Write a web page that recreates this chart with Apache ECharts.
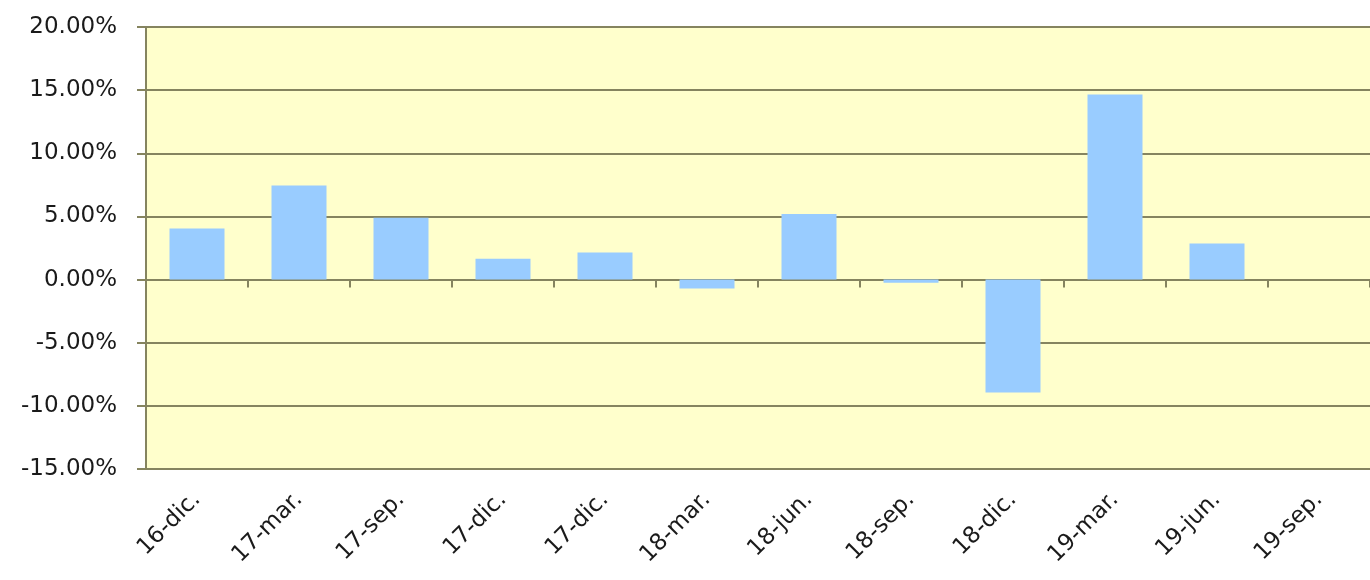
<!DOCTYPE html>
<html>
<head>
<meta charset="utf-8">
<script src="https://cdn.jsdelivr.net/npm/echarts@6/dist/echarts.min.js"></script>
<style>
  html, body { margin: 0; padding: 0; background: #ffffff; }
  #chart { width: 1370px; height: 580px; }
</style>
</head>
<body>
<div id="chart"></div>
<script>
// Quarterly returns (%)
const categories = ['16-dic.', '17-mar.', '17-sep.', '17-dic.', '17-dic.', '18-mar.',
                    '18-jun.', '18-sep.', '18-dic.', '19-mar.', '19-jun.', '19-sep.'];
const returns = [4.05, 7.45, 4.9, 1.65, 2.15, -0.7, 5.2, -0.25, -8.95, 14.65, 2.85, null];

const axisColor = '#85845f';
const labelFont = { fontFamily: 'DejaVu Sans', fontSize: 23, color: '#1a1a1a' };

const chart = echarts.init(document.getElementById('chart'));
chart.setOption({
  animation: false,
  backgroundColor: '#ffffff',
  grid: {
    left: 146, top: 27, width: 1232, height: 442,
    show: true, backgroundColor: '#ffffcc', borderWidth: 0
  },
  xAxis: [
    {
      // axis line through zero with boundary ticks
      type: 'category',
      data: categories,
      axisLine: { onZero: true, lineStyle: { color: axisColor, width: 2 } },
      axisTick: { show: true, length: 8, lineStyle: { color: axisColor, width: 2 } },
      axisLabel: { show: false },
      splitLine: { show: false }
    },
    {
      // date labels along the bottom edge
      type: 'category',
      data: categories,
      position: 'bottom',
      axisLine: { show: false, onZero: false },
      axisTick: { show: false },
      axisLabel: Object.assign({ rotate: 45, margin: 27, interval: 0 }, labelFont),
      splitLine: { show: false }
    }
  ],
  yAxis: {
    type: 'value',
    min: -15, max: 20, interval: 5,
    axisLine: { show: true, lineStyle: { color: axisColor, width: 2 } },
    axisTick: { show: true, length: 9, lineStyle: { color: axisColor, width: 2 } },
    splitLine: { show: true, lineStyle: { color: axisColor, width: 2 } },
    axisLabel: Object.assign({
      margin: 29,
      formatter: v => v.toFixed(2) + '%'
    }, labelFont)
  },
  series: [{
    type: 'bar',
    xAxisIndex: 0,
    data: returns,
    barWidth: 55,
    itemStyle: { color: '#99ccff' }
  }]
});
</script>
</body>
</html>
